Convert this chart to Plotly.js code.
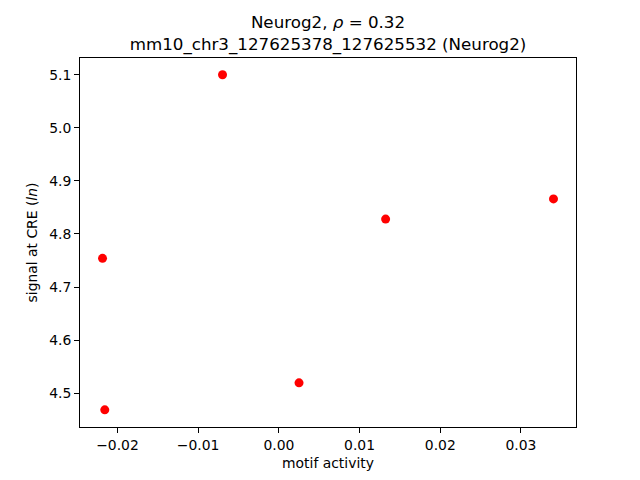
<!DOCTYPE html>
<html>
<head>
<meta charset="utf-8">
<script src="https://cdn.plot.ly/plotly-3.0.1.min.js"></script>
<style>html,body{margin:0;padding:0;background:#fff;}#plot{width:640px;height:480px;}</style>
</head>
<body>
<div id="plot"></div>
<script>
const motifActivity = [-0.00698, -0.02185, -0.02157, 0.00250, 0.01323, 0.03403];
const signalAtCRE   = [5.100, 4.754, 4.4686, 4.5194, 4.828, 4.866];
const xTicks = [-0.02, -0.01, 0.00, 0.01, 0.02, 0.03];
const xTickText = ['\u22120.02', '\u22120.01', '0.00', '0.01', '0.02', '0.03'];
const yTicks = [4.5, 4.6, 4.7, 4.8, 4.9, 5.0, 5.1];
const yTickText = ['4.5', '4.6', '4.7', '4.8', '4.9', '5.0', '5.1'];

const font = 'DejaVu Sans, sans-serif';
const trace = {
  x: motifActivity, y: signalAtCRE, type: 'scatter', mode: 'markers',
  marker: {color: '#ff0000', size: 9, line: {width: 0}},
  hoverinfo: 'skip', showlegend: false
};
const axisCommon = {
  showgrid: false, zeroline: false, showline: true, mirror: true,
  linecolor: '#000', linewidth: 1, ticks: 'outside', ticklen: 5, tickwidth: 1,
  tickcolor: '#000', tickfont: {family: font, size: 13.9, color: '#000'}
};
const layout = {
  width: 640, height: 480,
  paper_bgcolor: '#fff', plot_bgcolor: '#fff',
  margin: {l: 80, r: 64, t: 57.6, b: 52.8, pad: 0},
  title: {
    text: 'Neurog2, <i>\u03c1</i> = 0.32<br>mm10_chr3_127625378_127625532 (Neurog2)',
    font: {family: font, size: 16.7, color: '#000'},
    xref: 'paper', x: 0.5, xanchor: 'center',
    yref: 'container', y: 0.941, yanchor: 'top'
  },
  xaxis: Object.assign({}, axisCommon, {
    range: [-0.02464, 0.03682], tickvals: xTicks, ticktext: xTickText,
    title: {text: 'motif activity', font: {family: font, size: 13.9, color: '#000'}, standoff: 6}
  }),
  yaxis: Object.assign({}, axisCommon, {
    range: [4.4362, 5.1316], tickvals: yTicks, ticktext: yTickText,
    title: {text: 'signal at CRE (<i>ln</i>)', font: {family: font, size: 13.9, color: '#000'}, standoff: 8}
  })
};
Plotly.newPlot('plot', [trace], layout, {staticPlot: true, displayModeBar: false});
</script>
</body>
</html>
